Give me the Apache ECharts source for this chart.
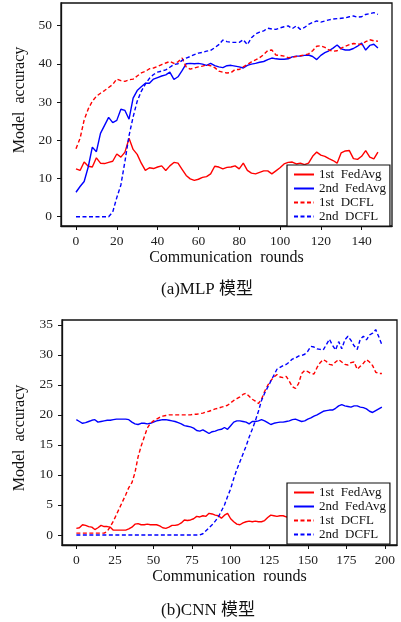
<!DOCTYPE html>
<html>
<head>
<meta charset="utf-8">
<title>Model accuracy</title>
<script src="https://cdn.jsdelivr.net/npm/echarts@6.0.0/dist/echarts.min.js"></script>
<style>
  html, body { margin: 0; padding: 0; background: #fff; }
  #chart { width: 401px; height: 622px; }
</style>
</head>
<body>
<div id="chart"></div>
<script>
// legend names, shared by both panels
var seriesNames = ['1st  FedAvg', '2nd  FedAvg', '1st  DCFL', '2nd  DCFL'];
var seriesColors = ['#ff0000', '#0000ff', '#ff0000', '#0000ff'];

// (a) MLP
var mlpTicksX = [0, 20, 40, 60, 80, 100, 120, 140];
var mlpTicksY = [0, 10, 20, 30, 40, 50];
var mlpFedAvg1 = [12.5,12.1,14.3,13.2,13.0,15.4,14.0,13.9,14.2,14.5,
  16.4,15.6,16.9,20.5,17.6,16.3,14.0,12.1,12.8,12.6,
  13.0,13.3,12.1,13.3,14.2,14.0,12.4,10.8,9.9,9.5,
  9.8,10.3,10.5,11.2,13.2,13.0,12.5,12.9,13.0,13.3,
  12.5,14.0,12.1,11.4,11.2,11.6,12.0,12.0,11.2,12.0,
  12.8,13.8,14.2,14.3,13.8,14.0,13.6,14.0,15.8,16.9,
  16.1,15.8,15.2,14.7,14.0,16.7,17.2,17.3,15.2,15.0,
  15.8,17.3,15.6,15.1,16.9];
var mlpFedAvg2 = [6.4,7.9,9.2,13.0,18.2,17.0,21.8,23.9,26.0,24.6,
  25.2,28.1,27.8,25.5,31.0,33.0,34.0,34.9,34.9,36.0,
  36.4,36.8,37.1,37.8,35.9,36.6,38.2,40.0,40.1,40.0,
  40.1,39.9,39.6,40.1,39.5,39.2,39.0,39.5,39.6,39.4,
  39.2,38.9,39.6,39.9,40.1,40.4,40.6,41.1,41.5,41.3,
  41.2,41.2,41.3,41.8,42.0,42.0,42.2,42.3,41.9,41.1,
  42.2,42.9,43.4,44.1,44.9,43.9,43.6,43.6,44.0,44.6,
  45.4,43.6,44.8,45.1,44.1];
var mlpDcfl1 = [17.8,20.5,25.3,28.2,30.2,31.5,32.3,33.0,33.8,34.6,
  36.0,35.6,35.4,35.8,36.0,36.8,37.6,38.0,38.7,38.9,
  39.3,39.8,40.2,40.6,40.1,40.5,41.5,39.2,38.6,38.9,
  39.2,39.4,39.7,39.5,39.0,38.1,37.8,37.6,37.7,38.5,
  38.5,39.2,39.8,40.5,41.0,41.6,42.4,43.5,43.6,42.3,
  42.2,42.0,41.6,41.7,41.9,42.1,42.3,42.6,43.4,44.6,
  44.7,44.3,43.6,43.3,43.4,44.1,44.6,45.0,45.3,45.2,
  45.0,45.8,46.3,46.0,45.9];
var mlpDcfl2 = [0,0,0,0,0,0,0,0,0,1.2,
  5.0,8.3,14.5,21.2,26.1,30.2,32.8,34.7,36.2,37.2,
  37.8,38.1,38.4,39.1,39.8,40.0,40.9,41.5,41.9,42.4,
  42.8,43.0,43.3,43.5,44.2,45.0,46.2,45.8,45.6,45.6,
  45.6,46.3,45.0,46.8,47.8,48.3,48.6,49.3,49.1,49.0,
  49.4,49.7,49.9,49.2,49.9,49.0,49.5,50.3,50.8,51.2,
  50.9,51.2,51.5,51.7,51.8,51.9,52.0,52.3,52.5,52.2,
  52.3,52.9,53.1,53.4,52.9];

// (b) CNN
var cnnTicksX = [0, 25, 50, 75, 100, 125, 150, 175, 200];
var cnnTicksY = [0, 5, 10, 15, 20, 25, 30, 35];
var cnnFedAvg1 = [1.1,1.2,1.7,1.6,1.4,1.3,0.9,1.2,1.6,1.4,
  1.4,1.3,0.8,0.8,0.8,0.8,0.8,1.0,1.3,1.8,
  1.9,1.7,1.7,1.8,1.7,1.7,1.7,1.5,1.2,1.1,
  1.3,1.6,1.6,1.7,2.0,2.5,2.4,2.5,2.7,3.1,
  3.0,3.2,3.1,3.6,3.5,3.3,3.2,2.8,3.3,3.6,
  2.7,2.2,1.8,1.7,2.0,2.2,2.3,2.2,2.3,2.2,
  2.2,2.4,2.9,3.3,3.2,3.1,3.2,3.2,3.0,3.1,
  3.3,3.2,3.0,3.2,3.4,3.3,3.1,3.2,3.4,3.3,
  3.1,3.3,3.4,3.2,3.1,3.3,3.5,3.3,3.2,3.4,
  3.3,3.1,3.2,3.4,3.3,3.2,3.4,3.3,3.2,3.3];
var cnnFedAvg2 = [19.2,18.9,18.6,18.7,18.9,19.1,19.2,18.8,18.9,19.0,
  19.1,19.1,19.2,19.3,19.3,19.3,19.3,19.2,18.8,18.5,
  18.4,18.6,18.6,18.5,18.6,18.8,19.0,19.1,19.2,19.2,
  19.1,19.0,18.9,18.7,18.5,18.2,18.1,18.0,17.8,17.4,
  17.3,17.5,17.2,16.9,17.2,17.3,17.5,17.6,17.9,17.6,
  18.2,18.8,19.0,19.0,18.9,18.8,18.5,18.9,18.9,19.0,
  19.2,19.0,18.7,18.4,18.6,18.7,18.8,18.8,18.9,19.0,
  19.2,19.3,19.1,18.9,19.0,19.3,19.5,19.8,20.0,20.3,
  20.6,20.7,20.8,20.8,21.1,21.5,21.7,21.5,21.4,21.3,
  21.5,21.5,21.3,21.2,21.0,20.6,20.4,20.7,21.0,21.3];
var cnnDcfl1 = [0.3,0.3,0.3,0.3,0.3,0.3,0.3,0.3,0.3,0.3,
  0.6,1.4,2.3,3.4,4.5,5.6,6.7,7.9,8.7,10.4,
  13.0,14.8,16.3,17.8,18.6,19.0,19.3,19.6,19.8,19.9,
  20.0,20.0,20.0,20.0,20.0,20.0,20.0,20.0,20.1,20.1,
  20.2,20.3,20.5,20.6,20.8,21.0,21.1,21.3,21.4,21.6,
  22.0,22.4,22.7,23.0,23.4,23.6,23.1,22.6,22.3,21.9,
  22.6,23.9,24.9,25.7,26.3,26.7,26.3,26.2,26.4,25.6,
  24.7,24.4,25.2,26.9,27.4,27.2,26.9,26.8,27.9,28.7,
  29.2,28.9,28.4,28.3,28.8,29.2,28.8,28.4,28.3,28.7,
  28.8,27.6,28.1,28.6,29.2,28.8,28.2,27.1,26.9,26.9];
var cnnDcfl2 = [0,0,0,0,0,0,0,0,0,0,
  0,0,0,0,0,0,0,0,0,0,
  0,0,0,0,0,0,0,0,0,0,
  0,0,0,0,0,0,0,0,0,0,
  0,0.2,0.7,1.2,1.7,2.3,3.0,4.0,5.0,6.4,
  7.7,9.4,10.9,12.2,13.5,14.8,16.3,17.6,19.0,20.6,
  22.4,23.6,24.6,25.6,26.6,27.6,27.9,28.2,28.4,28.8,
  29.3,29.5,29.8,29.9,30.1,30.6,31.4,31.3,31.0,30.9,
  30.8,31.7,32.6,31.6,30.8,32.2,31.0,32.5,33.1,32.4,
  31.5,30.9,32.6,33.1,32.5,33.3,33.6,34.2,33.0,31.7];

// rounds were logged every 2 rounds
var mlpRounds = [];
for (var i = 0; i < mlpFedAvg1.length; i++) mlpRounds.push(i * 2);
var cnnRounds = [];
for (var i = 0; i < cnnFedAvg1.length; i++) cnnRounds.push(i * 2);

var FONT = 'Liberation Serif';
var INK = '#111';

function makeSeries(rounds, lists, idx) {
  return lists.map(function (vals, k) {
    return {
      name: seriesNames[k],
      type: 'line',
      xAxisIndex: idx,
      yAxisIndex: idx,
      symbol: 'none',
      animation: false,
      color: seriesColors[k],
      lineStyle: { color: seriesColors[k], width: 1.4, type: k >= 2 ? [4, 2.5] : 'solid' },
      data: rounds.map(function (r, j) { return [r, vals[j]]; })
    };
  });
}

function xAxisOf(idx, min, max, ticks) {
  return {
    gridIndex: idx, type: 'value', min: min, max: max,
    name: 'Communication  rounds', nameLocation: 'middle', nameGap: 24,
    nameTextStyle: { fontFamily: FONT, fontSize: 16, color: INK },
    axisLine: { show: true, onZero: false, lineStyle: { color: INK, width: 1.3 } },
    axisTick: { show: true, inside: false, length: 4, customValues: ticks, lineStyle: { color: INK } },
    axisLabel: { customValues: ticks, margin: 8, fontFamily: FONT, fontSize: 13.5, color: '#222' },
    splitLine: { show: false }
  };
}

function yAxisOf(idx, min, max, ticks) {
  return {
    gridIndex: idx, type: 'value', min: min, max: max,
    axisLine: { show: true, onZero: false, lineStyle: { color: INK, width: 1.3 } },
    axisTick: { show: true, inside: false, length: 4, customValues: ticks, lineStyle: { color: INK } },
    axisLabel: { customValues: ticks, margin: 9, fontFamily: FONT, fontSize: 13.5, color: '#222' },
    splitLine: { show: false }
  };
}

function legendAt(top) {
  return {
    data: seriesNames,
    orient: 'vertical',
    left: 287, top: top,
    backgroundColor: '#fff',
    borderColor: INK, borderWidth: 1.2, borderRadius: 0,
    padding: [3, 4, 3, 6],
    itemWidth: 20, itemHeight: 10, itemGap: 1,
    selectedMode: false,
    // hide the marker dot, keep only the line sample
    itemStyle: { opacity: 0, borderWidth: 0 },
    textStyle: { fontFamily: FONT, fontSize: 13, lineHeight: 12, color: INK }
  };
}

function textAt(x, y, text, rot, size) {
  return {
    type: 'text', x: x, y: y, rotation: rot || 0,
    style: {
      text: text, x: 0, y: 0, fill: INK,
      font: size + 'px "Liberation Serif", "Noto Sans CJK SC"',
      textAlign: 'center', textVerticalAlign: 'middle'
    }
  };
}

var option = {
  backgroundColor: '#fff',
  animation: false,
  grid: [
    { left: 61, top: 3, width: 331, height: 223, show: true, borderColor: INK, borderWidth: 1.3 },
    { left: 62, top: 320, width: 335, height: 225, show: true, borderColor: INK, borderWidth: 1.3 }
  ],
  xAxis: [
    xAxisOf(0, -7.35, 154.9, mlpTicksX),
    xAxisOf(1, -9.3, 207.8, cnnTicksX)
  ],
  yAxis: [
    yAxisOf(0, -2.43, 55.9, mlpTicksY),
    yAxisOf(1, -1.67, 35.8, cnnTicksY)
  ],
  legend: [legendAt(165), legendAt(483)],
  graphic: [
    textAt(20, 100, 'Model  accuracy', Math.PI / 2, 16),
    textAt(20, 438, 'Model  accuracy', Math.PI / 2, 16),
    textAt(207, 290, '(a)MLP 模型', 0, 17),
    textAt(208, 611, '(b)CNN 模型', 0, 17)
  ],
  series: makeSeries(mlpRounds, [mlpFedAvg1, mlpFedAvg2, mlpDcfl1, mlpDcfl2], 0)
    .concat(makeSeries(cnnRounds, [cnnFedAvg1, cnnFedAvg2, cnnDcfl1, cnnDcfl2], 1))
};

var chart = echarts.init(document.getElementById('chart'), null, { renderer: 'canvas' });
chart.setOption(option);
</script>
</body>
</html>
